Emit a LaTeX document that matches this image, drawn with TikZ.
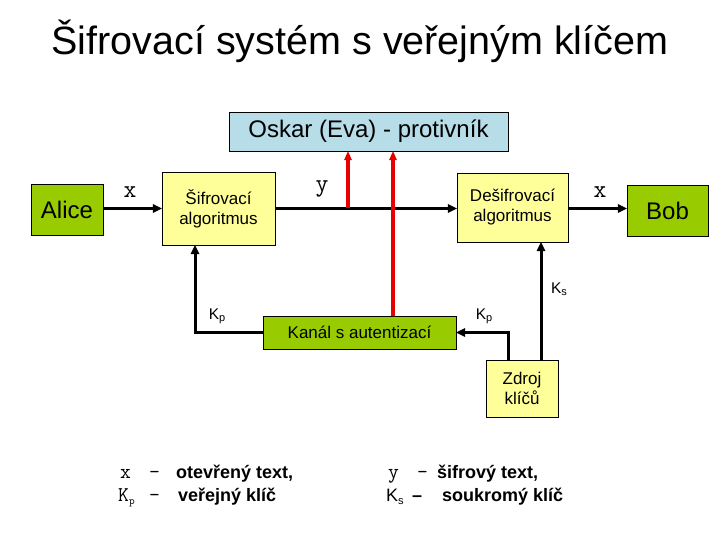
\documentclass[tikz,border=0pt]{standalone}
\usepackage{fontspec}
\setmainfont{Liberation Sans}
\usetikzlibrary{arrows.meta}

\definecolor{boxgreen}{RGB}{153,204,0}
\definecolor{boxyellow}{RGB}{255,255,153}
\definecolor{boxblue}{RGB}{183,221,232}
\definecolor{wirered}{RGB}{230,0,0}

\newcommand\lowsub[1]{\raisebox{-0.35ex}{\fontsize{11}{11}\selectfont #1}}
\newcommand\legmono[1]{{\ttfamily\fontsize{21}{22}\selectfont #1}}

\begin{document}
\begin{tikzpicture}[x=1pt, y=-1pt,
    party/.style={draw, fill=boxgreen, inner sep=0pt, font=\fontsize{24}{28}\selectfont},
    algo/.style={draw, fill=boxyellow, inner sep=0pt, align=center, font=\fontsize{17}{20}\selectfont},
    wire/.style={line width=3pt},
    arr/.style={wire, -{Triangle[length=9pt, width=9pt, line width=0pt]}},
    tap/.style={line width=4pt, draw=wirered, -{Triangle[length=9pt, width=8pt, line width=0pt]}},
    sym/.style={font=\ttfamily\fontsize{25}{25}\selectfont, inner sep=0pt, anchor=base},
    key/.style={font=\fontsize{15.5}{15.5}\selectfont, inner sep=0pt, anchor=base},
    legend/.style={font=\fontsize{18}{22}\selectfont, inner sep=0pt, anchor=base west},
]
\useasboundingbox (0,0) rectangle (720,540);

\node[font=\fontsize{39.5}{40}\selectfont, anchor=base] (title) at (360,55) {Šifrovací systém s veřejným klíčem};

% boxes
\node[party, minimum width=72pt, minimum height=51pt] (alice) at (67,210) {Alice};
\node[algo, minimum width=113pt, minimum height=73pt] (enc) at (218.5,208.5) {Šifrovací\\algoritmus};
\node[draw, fill=boxblue, minimum width=279pt, minimum height=39pt, inner sep=0pt,
      font=\fontsize{24}{28}\selectfont] (oskar) at (368.5,131.5) {Oskar (Eva) - protivník};
\node[algo, minimum width=111pt, minimum height=69pt] (dec) at (512.5,207.5) {Dešifrovací\\algoritmus};
\node[party, minimum width=81pt, minimum height=51pt] (bob) at (667.5,210.5) {Bob};
\node[party, font=\fontsize{17}{20}\selectfont, minimum width=193pt, minimum height=33pt] (chan) at (359.5,332.5) {Kanál s autentizací};
\node[algo, minimum width=72pt, minimum height=57pt] (src) at (522,388.5) {Zdroj\\klíčů};

% main line
\draw[arr] (alice.east |- enc) -- (enc.west);
\draw[arr] (enc.east) -- (enc.east -| dec.west);
\draw[arr] (enc.east -| dec.east) -- (enc.east -| bob.west);

% keys
\draw[arr] (chan.west) -| ([xshift=-23.5pt]enc.south);
\draw[arr] ([xshift=-14pt]src.north) |- (chan.east);
\draw[arr] ([xshift=19pt]src.north) -- ([xshift=19pt]src.north |- dec.south);

% eavesdropping
\coordinate (split) at (348,208.5);
\draw[tap] (split) -- (split |- oskar.south);
\draw[tap] ([xshift=33.5pt]chan.north) -- ([xshift=33.5pt]chan.north |- oskar.south);

% labels
\node[sym] (xin) at (130,197) {x};
\node[sym] (yout) at (322,192) {y};
\node[sym] (xout) at (600,198) {x};
\node[key] (kpl) at (217,319) {K\lowsub{p}};
\node[key] (kpr) at (484,319) {K\lowsub{p}};
\node[key] (ks) at (559,293) {K\lowsub{s}};

% legend
\node[legend] (lx) at (120,478) {\makebox[29pt][l]{\legmono{x}}\makebox[27pt][l]{\legmono{–}}\textbf{otevřený text,}};
\node[legend] (lkp) at (118,501) {\makebox[31pt][l]{\legmono{K\lowsub{p}}}\makebox[29pt][l]{\legmono{–}}\textbf{veřejný klíč}};
\node[legend] (ly) at (388,478) {\makebox[29pt][l]{\legmono{y}}\makebox[20pt][l]{\legmono{–}}\textbf{šifrový text,}};
\node[legend] (lks) at (386,501) {\makebox[26pt][l]{K\lowsub{s}}\makebox[30pt][l]{\textbf{–}}\textbf{soukromý klíč}};
\end{tikzpicture}
\end{document}
